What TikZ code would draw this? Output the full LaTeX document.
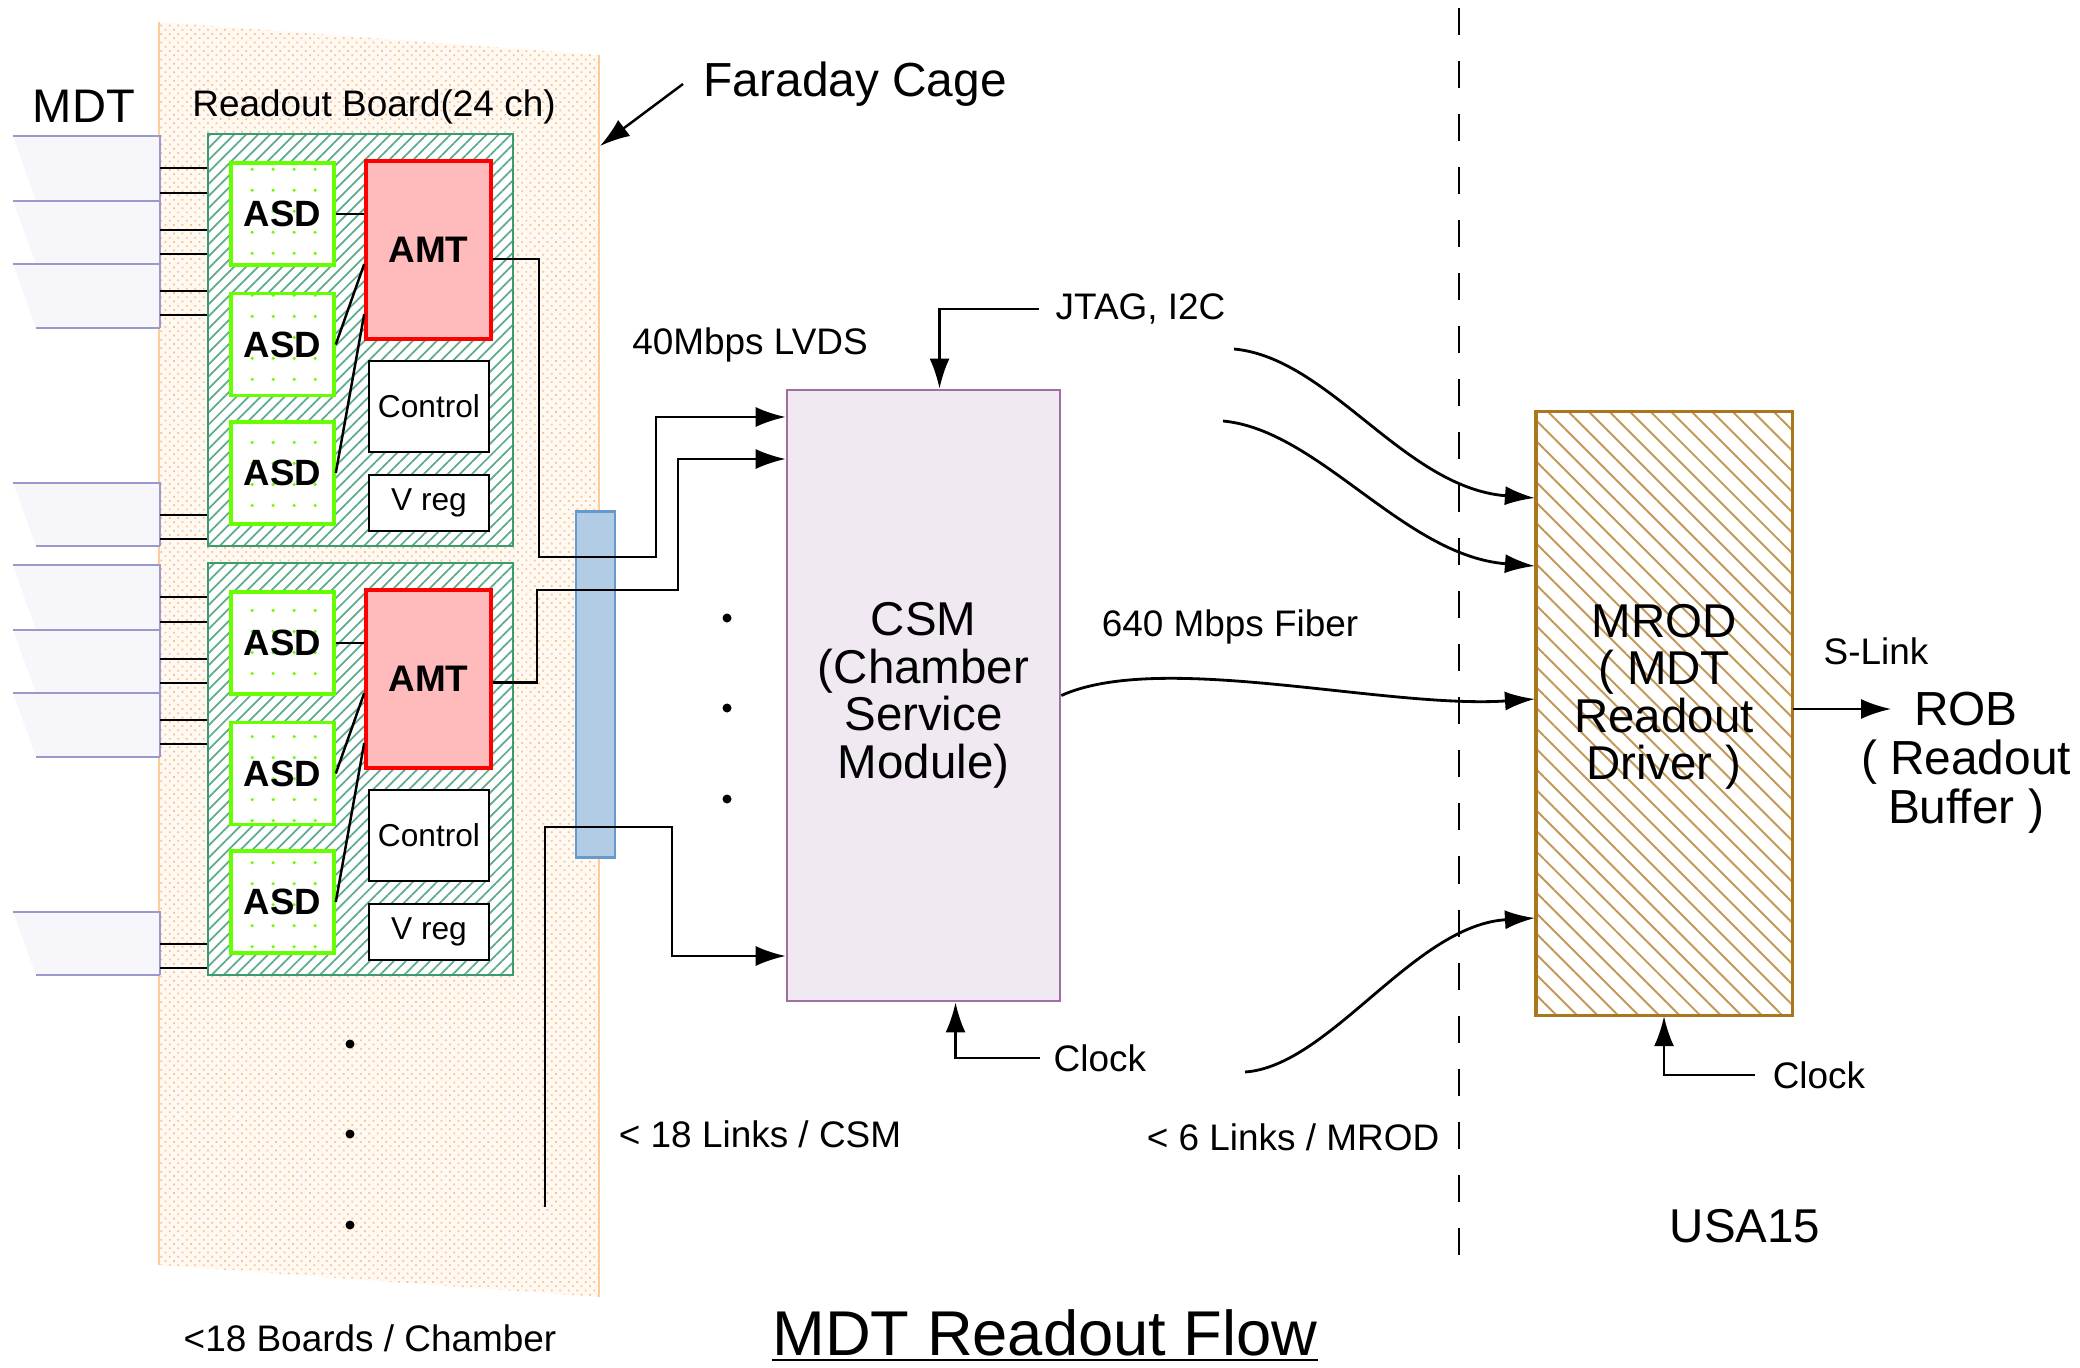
\documentclass[tikz,border=0pt]{standalone}
\usepackage{fontspec}
\setmainfont{Liberation Sans}
\usetikzlibrary{arrows.meta, patterns.meta, calc}

\definecolor{cagefill}{RGB}{255,249,243}
\definecolor{cagedot}{RGB}{255,192,135}
\definecolor{cageorange}{RGB}{255,204,153}
\definecolor{boardgreen}{RGB}{60,155,110}
\definecolor{hatchgreen}{RGB}{95,172,140}
\definecolor{asdgreen}{RGB}{102,255,0}
\definecolor{amtpink}{RGB}{255,187,187}
\definecolor{tubeblue}{RGB}{153,153,204}
\definecolor{tubefill}{RGB}{247,247,251}
\definecolor{barfill}{RGB}{178,204,230}
\definecolor{barblue}{RGB}{102,153,204}
\definecolor{csmfill}{RGB}{241,233,242}
\definecolor{csmpurple}{RGB}{160,110,165}
\definecolor{mrodbrown}{RGB}{170,118,30}
\definecolor{mrodhatch}{RGB}{195,152,85}

\begin{document}
\begin{tikzpicture}[x=0.01cm, y=-0.01cm,
    lbl/.style={font=\fontsize{10.5}{12}\selectfont, inner sep=0},
    big/.style={font=\fontsize{13.5}{13.5}\selectfont, align=center, inner sep=0},
    board/.style={draw=boardgreen, line width=0.7pt, preaction={fill=white},
        pattern={Lines[angle=45, distance=0.085cm, line width=0.5pt]}, pattern color=hatchgreen,
        minimum width=3.05cm, minimum height=4.12cm, inner sep=0},
    asdbox/.style={draw=asdgreen, line width=1pt, preaction={fill=white},
        pattern={Dots[distance=0.21cm, radius=0.5pt]}, pattern color=asdgreen,
        minimum width=1.03cm, minimum height=1.02cm, inner sep=0, font=\bfseries\fontsize{10.4}{12}\selectfont},
    amtbox/.style={draw=red, line width=1pt, fill=amtpink, minimum width=1.25cm, minimum height=1.78cm,
        inner sep=0, font=\bfseries\fontsize{10.5}{12}\selectfont},
    plainbox/.style={draw, line width=0.8pt, fill=white, minimum width=1.2cm, inner sep=0, font=\fontsize{9}{11}\selectfont},
    csmbox/.style={big, draw=csmpurple, line width=0.7pt, fill=csmfill, minimum width=2.73cm, minimum height=6.11cm},
    mrodbox/.style={draw=mrodbrown, line width=0.9pt, preaction={fill=white},
        pattern={Lines[angle=-45, distance=0.145cm, line width=0.55pt]}, pattern color=mrodhatch,
        minimum width=2.56cm, minimum height=6.03cm, inner sep=0},
    barbox/.style={draw=barblue, line width=0.8pt, fill=barfill, minimum width=0.39cm, minimum height=3.45cm, inner sep=0},
    tubeline/.style={draw=tubeblue, line width=0.8pt},
    wire/.style={line width=0.7pt},
    arr/.style={wire, -{Latex[length=0.3cm, width=0.2cm]}},
    curvearr/.style={line width=0.8pt, -{Latex[length=0.3cm, width=0.19cm]}},
]
\useasboundingbox (0,0) rectangle (2080,1367);

% Faraday cage
\path[preaction={fill=cagefill}, pattern={Dots[angle=45, distance=0.06cm, radius=0.35pt]}, pattern color=cagedot]
    (159,22) -- (599,55) -- (599,1297) -- (159,1265) -- cycle;
\draw[cageorange, line width=0.8pt] (159,22) -- (159,1265);
\draw[cageorange, line width=0.8pt] (599,55) -- (599,1297);
\node[font=\fontsize{13.6}{16}\selectfont, anchor=west, inner xsep=0.2cm, inner ysep=0] (fcage) at (683,84) {Faraday Cage};
\coordinate (cagept) at (600,146);
\draw[arr] (fcage.west) -- (cagept);

\node[font=\fontsize{13.4}{16}\selectfont, inner sep=0] (mdt) at (84,106) {MDT};
\node[lbl] (rblbl) at (374,107) {Readout Board(24 ch)};

% Readout boards with MDT tubes
\foreach \i/\dy in {1/0, 2/429} {
  \foreach \t/\b in {136/201, 201/264, 264/328, 483/546} {
    \fill[tubefill] (13,\t+\dy) -- (160,\t+\dy) -- (160,\b+\dy) -- (36,\b+\dy) -- cycle;
    \draw[tubeline] (13,\t+\dy) -- (160,\t+\dy) -- (160,\b+\dy);
  }
  \draw[tubeline] (36,328+\dy) -- (160,328+\dy);
  \draw[tubeline] (36,546+\dy) -- (160,546+\dy);
  \node[board] (b\i) at (360.5,340+\dy) {};
  \foreach \y in {168,193,230,254,291,315,515,539}
    \draw[wire] (160,\y+\dy) -- (b\i.west |- 0,\y+\dy);
  \node[asdbox] (asda\i) at (282.5,214+\dy) {ASD};
  \node[asdbox] (asdb\i) at (282.5,344.5+\dy) {ASD};
  \node[asdbox] (asdc\i) at (282.5,473+\dy) {ASD};
  \node[amtbox] (amt\i) at (428.5,250+\dy) {AMT};
  \node[plainbox, minimum height=0.91cm] (ctrl\i) at (429,406.5+\dy) {Control};
  \node[plainbox, minimum height=0.56cm] (vreg\i) at (429,503+\dy) {V reg};
  \draw[wire] (asda\i.east) -- (asda\i.east -| amt\i.west);
  \draw[wire] (asdb\i.east) -- ([yshift=-0.14cm]amt\i.west);
  \draw[wire] (asdc\i.east) -- ([yshift=-0.64cm]amt\i.west);
}
\foreach \y in {1044,1134,1225} \fill (350,\y) circle[radius=0.045cm];

% Patch bar and CSM
\node[barbox] (bar) at (595.5,684.5) {};
\node[csmbox] (csm) at (923.5,695.5) {CSM\\(Chamber\\Service\\Module)};
\draw[arr] ([yshift=-0.09cm]amt1.east) -| (539,557) -| (656,417) -- (csm.west |- 0,417);
\draw[arr] ([yshift=-0.035cm]amt2.east) -| (537,590) -| (678,459) -- (csm.west |- 0,459);
\coordinate (linkend) at (545,1207);
\draw[arr] (linkend) |- (672,827) |- (csm.west |- 0,956);
\foreach \y in {618,708,799} \fill (727,\y) circle[radius=0.045cm];

\node[lbl] (lvds) at (750,345) {40Mbps LVDS};
\node[lbl, anchor=west, inner xsep=0.16cm] (jtag) at (1039,309) {JTAG, I2C};
\draw[arr] (jtag.west) -| ([xshift=0.16cm]csm.north);
\node[lbl, anchor=west, inner xsep=0.13cm] (clka) at (1040,1058) {Clock};
\draw[arr] (clka.west) -| ([xshift=0.32cm]csm.south);
\node[lbl] (links) at (760,1134) {< 18 Links / CSM};
\node[lbl] (boards) at (370,1338) {<18 Boards / Chamber};

% MROD
\node[mrodbox, label={[big, yshift=0.165cm]center:{MROD\\( MDT\\Readout\\Driver )}}] (mrod) at (1664,713.5) {};
\node[lbl, anchor=west, inner xsep=0.17cm] (clkb) at (1755,1075) {Clock};
\draw[arr] (clkb.west) -| (mrod.south);
\coordinate (jtaga) at (1234,349);
\coordinate (jtagb) at (1223,421);
\coordinate (linkc) at (1245,1072);
\draw[curvearr] (jtaga) .. controls +(96,9) and +(-131,-10) .. (mrod.west |- 0,498);
\draw[curvearr] (jtagb) .. controls +(96,9) and +(-131,-10) .. (mrod.west |- 0,566);
\draw[curvearr] (csm.east) .. controls +(100,-45) and +(-150,10) .. (mrod.west |- 0,699);
\draw[curvearr] (linkc) .. controls +(85,-6) and +(-121,7) .. (mrod.west |- 0,918);
\node[lbl] (fiber) at (1230,627) {640 Mbps Fiber};
\node[lbl] (mlinks) at (1293,1137) {< 6 Links / MROD};

% ROB
\coordinate (slink) at (1891,709);
\draw[arr] (mrod.east |- slink) -- (slink);
\node[lbl] (slinklbl) at (1876,651) {S-Link};
\node[big, font=\fontsize{13.6}{13.9}\selectfont] (rob) at (1966,763) {ROB\\( Readout\\Buffer )};

% USA15 boundary
\draw[line width=0.7pt, dash pattern=on 0.27cm off 0.26cm] (1459,8) -- (1459,1260);
\node[big] (usa) at (1745,1226) {USA15};

% Title
\node[font=\fontsize{18}{20}\selectfont, inner sep=0, anchor=base] (title) at (1045,1355) {MDT Readout Flow};
\draw[line width=0.7pt] ([yshift=-0.05cm]title.base west) -- ([yshift=-0.05cm]title.base east);

\end{tikzpicture}
\end{document}
